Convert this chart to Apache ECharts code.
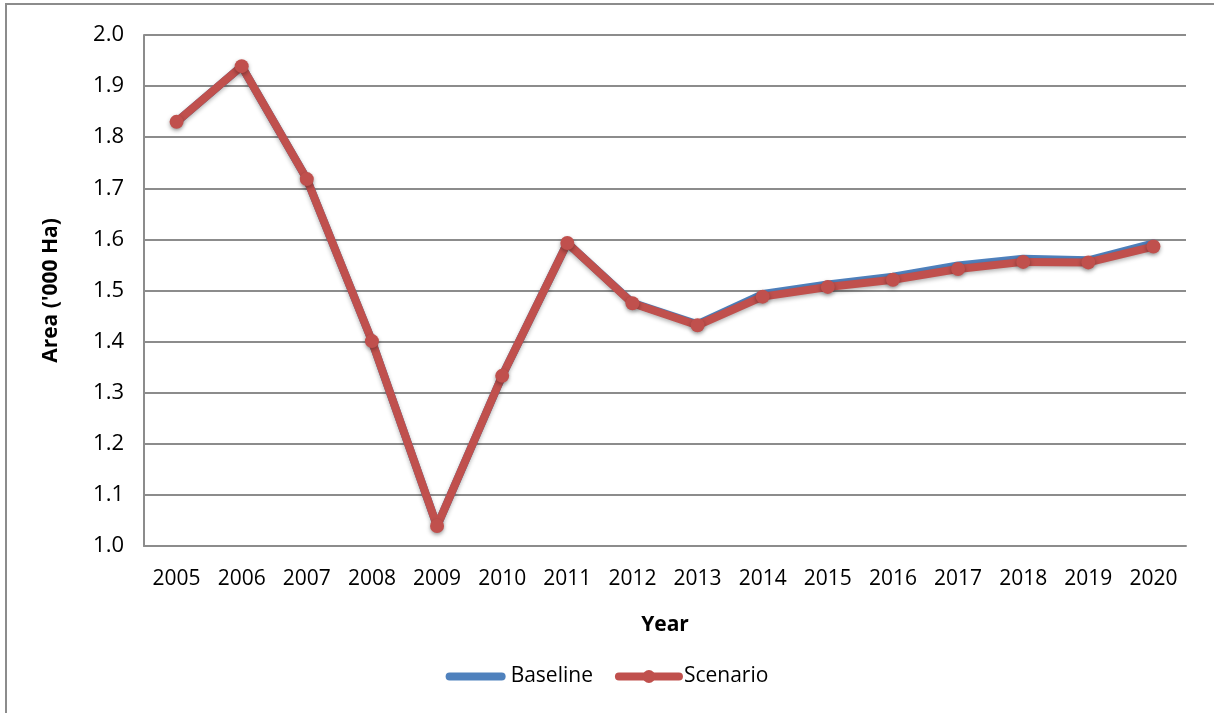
<!DOCTYPE html>
<html>
<head>
<meta charset="utf-8">
<script src="https://cdn.jsdelivr.net/npm/echarts@6/dist/echarts.min.js"></script>
<style>
  html, body { margin: 0; padding: 0; background: #fff; }
  #frame { position: absolute; left: 5px; top: 3px; width: 1220px; height: 720px; border: 2px solid #8c8c8c; box-sizing: border-box; }
  #main { position: absolute; left: 0; top: 0; width: 1214px; height: 713px; }
</style>
</head>
<body>
<div id="frame"></div>
<div id="main"></div>
<script>
// years on the x axis
var years = ['2005', '2006', '2007', '2008', '2009', '2010', '2011', '2012',
  '2013', '2014', '2015', '2016', '2017', '2018', '2019', '2020'];
// area, '000 Ha
var baseline = [1.830, 1.939, 1.718, 1.401, 1.039, 1.333, 1.593, 1.476,
  1.434, 1.493, 1.512, 1.527, 1.549, 1.562, 1.559, 1.592];
var scenario = [1.830, 1.939, 1.718, 1.401, 1.039, 1.333, 1.593, 1.475,
  1.432, 1.488, 1.507, 1.521, 1.542, 1.556, 1.555, 1.586];

var font = '"Open Sans", sans-serif';
var chart = echarts.init(document.getElementById('main'));

var option = {
  animation: false,
  grid: { left: 144, right: 28, top: 35, bottom: 167 },
  legend: {
    bottom: 21,
    left: 'center',
    itemWidth: 60,
    itemHeight: 16,
    itemGap: 22,
    lineStyle: { width: 8, cap: 'round' },
    textStyle: { fontFamily: font, fontSize: 21, color: '#000' },
    data: [
      { name: 'Baseline', icon: 'path://M4,0 H56 A4,4 0 0 1 56,8 H4 A4,4 0 0 1 4,0 Z' },
      'Scenario'
    ]
  },
  xAxis: {
    type: 'category',
    data: years,
    name: 'Year',
    nameLocation: 'middle',
    nameGap: 69,
    nameTextStyle: { fontFamily: font, fontSize: 21, fontWeight: 'bold', color: '#000' },
    axisLine: { lineStyle: { color: '#8c8c8c', width: 2 } },
    axisTick: { show: false },
    axisLabel: { interval: 0, fontFamily: font, fontSize: 21, color: '#000', margin: 23 }
  },
  yAxis: {
    type: 'value',
    min: 1.0,
    max: 2.0,
    interval: 0.1,
    name: "Area ('000 Ha)",
    nameLocation: 'middle',
    nameGap: 82,
    nameTextStyle: { fontFamily: font, fontSize: 21, fontWeight: 'bold', color: '#000' },
    axisLine: { show: true, lineStyle: { color: '#8c8c8c', width: 2 } },
    axisTick: { show: false },
    splitLine: { lineStyle: { color: '#8c8c8c', width: 2 } },
    axisLabel: {
      fontFamily: font, fontSize: 22, color: '#000', margin: 20,
      formatter: function (v) { return v.toFixed(1); }
    }
  },
  series: [
    {
      name: 'Baseline',
      type: 'line',
      data: baseline,
      symbol: 'none',
      itemStyle: { color: '#4f81bd' },
      lineStyle: { color: '#4f81bd', width: 8, cap: 'round', join: 'round' }
    },
    {
      name: 'Scenario',
      type: 'line',
      data: scenario,
      symbol: 'circle',
      symbolSize: 14,
      itemStyle: { color: '#c0504d', shadowColor: 'rgba(0,0,0,0.35)', shadowBlur: 4, shadowOffsetY: 2 },
      lineStyle: { color: '#c0504d', width: 8, cap: 'round', join: 'round',
        shadowColor: 'rgba(0,0,0,0.3)', shadowBlur: 4, shadowOffsetY: 2 }
    }
  ]
};

chart.setOption(option);
</script>
</body>
</html>
